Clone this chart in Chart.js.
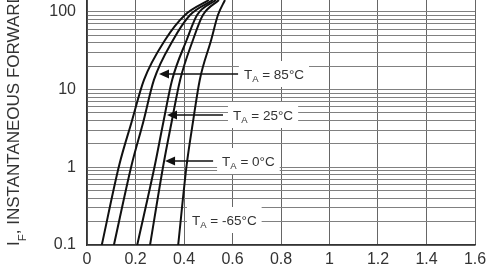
<!DOCTYPE html>
<html>
<head>
<meta charset="utf-8">
<script src="https://cdn.jsdelivr.net/npm/chart.js@4.4.1/dist/chart.umd.min.js"></script>
<style>
  html, body { margin: 0; padding: 0; background: #fff; }
</style>
</head>
<body>
<canvas id="ifChart" width="500" height="272"></canvas>
<script>
// forward current rows (amps)
const currentRows = [0.1, 1.07, 3.83, 13.3, 43.4, 91, 142];
// forward voltage of each curve at those rows (volts), left to right
const vfTopCurve = [0.061, 0.133, 0.184, 0.235, 0.322, 0.404, 0.503];
const vf85 = [0.111, 0.184, 0.232, 0.276, 0.355, 0.425, 0.520];
const vf25 = [0.207, 0.280, 0.315, 0.351, 0.411, 0.454, 0.532];
const vf0 = [0.260, 0.315, 0.349, 0.384, 0.437, 0.478, 0.544];
const vfMinus65 = [0.376, 0.411, 0.437, 0.465, 0.512, 0.540, 0.569];

const curveNames = ['', 'TA = 85°C', 'TA = 25°C', 'TA = 0°C', 'TA = -65°C'];
const curveVolts = [vfTopCurve, vf85, vf25, vf0, vfMinus65];

// axis ticks
const xTickStep = 0.2;
const yDecades = [0.1, 1, 10, 100];
const yDecadeLabels = ['0.1', '1', '10', '100'];
const yMantissas = [1, 2, 3, 4, 5, 6, 7, 8, 9];

// temperature call-outs: text, where the text starts and where the arrow points (data units)
const calloutTemps = ['85°C', '25°C', '0°C', '-65°C'];
const callouts = [
  { textV: 0.647, atI: 15.9, lineEndV: 0.623, tipV: 0.297 },
  { textV: 0.602, atI: 4.71, lineEndV: 0.561, tipV: 0.330 },
  { textV: 0.557, atI: 1.22, lineEndV: 0.520, tipV: 0.322 },
  { textV: 0.433, atI: 0.21, lineEndV: null, tipV: null }
];

const FONT = '"Liberation Sans", Arial, sans-serif';

// every gridline value of the log axis (1..9 per decade, up to 100)
const yGridValues = [];
yDecades.forEach(d => {
  yMantissas.forEach(m => {
    const v = +(m * d).toPrecision(6);
    if (v <= 100) yGridValues.push(v);
  });
});

const tempCallouts = {
  id: 'tempCallouts',
  afterDatasetsDraw(chart) {
    const { ctx, scales: { x, y } } = chart;
    ctx.save();
    callouts.forEach((c, i) => {
      const tx = x.getPixelForValue(c.textV);
      const ty = Math.round(y.getPixelForValue(c.atI));
      const rest = ' = ' + calloutTemps[i];
      ctx.font = '13.5px ' + FONT;
      const wT = ctx.measureText('T').width;
      const wRest = ctx.measureText(rest).width;
      ctx.font = '9.5px ' + FONT;
      const wA = ctx.measureText('A').width;
      const total = wT + wA + wRest;

      // white patch behind the text breaks the gridlines
      ctx.fillStyle = '#fff';
      ctx.fillRect(tx - 5, ty - 13, total + 10, 26);

      ctx.fillStyle = '#333';
      ctx.textBaseline = 'alphabetic';
      ctx.textAlign = 'left';
      ctx.font = '13.5px ' + FONT;
      ctx.fillText('T', tx, ty + 5);
      ctx.font = '9.5px ' + FONT;
      ctx.fillText('A', tx + wT, ty + 8);
      ctx.font = '13.5px ' + FONT;
      ctx.fillText(rest, tx + wT + wA, ty + 5);

      if (c.tipV !== null) {
        const tip = x.getPixelForValue(c.tipV);
        const end = x.getPixelForValue(c.lineEndV);
        ctx.strokeStyle = '#111';
        ctx.lineWidth = 1.6;
        ctx.beginPath();
        ctx.moveTo(end, ty);
        ctx.lineTo(tip + 8, ty);
        ctx.stroke();
        ctx.fillStyle = '#111';
        ctx.beginPath();
        ctx.moveTo(tip, ty);
        ctx.lineTo(tip + 10, ty - 4.5);
        ctx.lineTo(tip + 10, ty + 4.5);
        ctx.closePath();
        ctx.fill();
      }
    });
    ctx.restore();
  }
};

const yAxisTitle = {
  id: 'yAxisTitle',
  afterDraw(chart) {
    const ctx = chart.ctx;
    ctx.save();
    ctx.translate(19, 246);
    ctx.rotate(-Math.PI / 2);
    ctx.fillStyle = '#333';
    ctx.textBaseline = 'alphabetic';
    ctx.textAlign = 'left';
    ctx.font = '17px ' + FONT;
    ctx.fillText('I', 0, 0);
    let w = ctx.measureText('I').width;
    ctx.font = '11.5px ' + FONT;
    ctx.fillText('F', w, 7);
    w += ctx.measureText('F').width;
    ctx.font = '17px ' + FONT;
    ctx.fillText(', INSTANTANEOUS FORWARD CURRENT (AMPS)', w, 0);
    ctx.restore();
  }
};

new Chart(document.getElementById('ifChart'), {
  type: 'line',
  data: {
    datasets: curveVolts.map((volts, i) => ({
      label: curveNames[i],
      data: volts.map((v, k) => ({ x: v, y: currentRows[k] })),
      borderColor: '#111',
      borderWidth: 2,
      pointRadius: 0,
      fill: false,
      cubicInterpolationMode: 'monotone'
    }))
  },
  options: {
    responsive: false,
    animation: false,
    layout: { padding: { left: 0, right: 25, top: 0, bottom: 0 } },
    plugins: {
      legend: { display: false },
      tooltip: { enabled: false }
    },
    scales: {
      x: {
        type: 'linear',
        min: 0,
        max: 1.6,
        ticks: {
          stepSize: xTickStep,
          color: '#333',
          padding: 5,
          maxRotation: 0,
          autoSkip: false,
          font: { family: FONT, size: 16 },
          callback: v => String(+v.toFixed(1))
        },
        grid: { color: '#666', lineWidth: 1, drawTicks: false },
        border: { color: '#333', width: 1.5 },
        afterFit(s) {
          s.height = 27;
          s.paddingLeft = 0;
          s.paddingRight = 0;
        }
      },
      y: {
        type: 'logarithmic',
        min: 0.1,
        max: 142,
        afterBuildTicks(s) {
          s.ticks = yGridValues.map(v => ({ value: v }));
        },
        ticks: {
          autoSkip: false,
          color: '#333',
          padding: 11,
          font: { family: FONT, size: 16 },
          callback(v) {
            const i = yDecades.findIndex(d => Math.abs(d - v) < d * 1e-6);
            return i >= 0 ? yDecadeLabels[i] : '';
          }
        },
        grid: { color: '#808080', lineWidth: 1, drawTicks: false },
        border: { color: '#333', width: 1.5 },
        afterFit(s) {
          s.width = 87;
          s.paddingTop = 0;
          s.paddingBottom = 0;
        }
      }
    }
  },
  plugins: [tempCallouts, yAxisTitle]
});
</script>
</body>
</html>
